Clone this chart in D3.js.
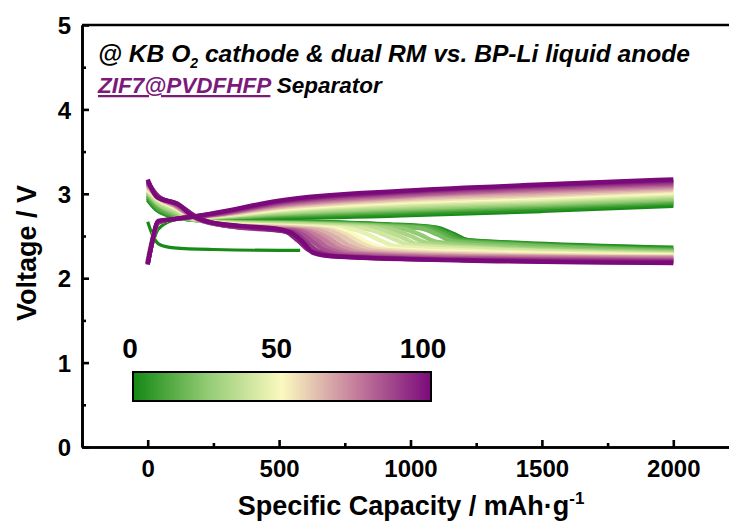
<!DOCTYPE html>
<html>
<head>
<meta charset="utf-8">
<script src="https://cdn.jsdelivr.net/npm/d3@7"></script>
<style>
  body { margin: 0; background: #fff; }
  svg { display: block; font-family: Arial, "Liberation Sans", sans-serif; }
</style>
</head>
<body>
<div id="chart"></div>
<script>
// cycle numbers drawn
const cycles = [1, 2, 5, 10, 15, 20, 25, 30, 35, 40, 45, 50, 55, 60, 65, 70, 75, 80, 85, 90, 95, 100];

// charge: shared capacity grid, one voltage row per cycle
const chargeCapacity = [0, 15, 40, 100, 150, 250, 500, 1000, 1500, 2000];
const chargeVoltage = [
    [2.25, 2.38, 2.58, 2.69, 2.71, 2.71, 2.71, 2.74, 2.79, 2.85],
    [2.2, 2.42, 2.66, 2.7, 2.72, 2.71, 2.72, 2.76, 2.81, 2.87],
    [2.2, 2.42, 2.66, 2.7, 2.72, 2.71, 2.73, 2.77, 2.82, 2.885],
    [2.2, 2.42, 2.66, 2.7, 2.72, 2.72, 2.74, 2.79, 2.84, 2.9],
    [2.2, 2.42, 2.66, 2.7, 2.72, 2.72, 2.75, 2.805, 2.855, 2.915],
    [2.2, 2.42, 2.66, 2.7, 2.72, 2.72, 2.76, 2.82, 2.87, 2.93],
    [2.2, 2.42, 2.66, 2.7, 2.72, 2.725, 2.77, 2.835, 2.885, 2.945],
    [2.2, 2.42, 2.66, 2.7, 2.72, 2.73, 2.78, 2.85, 2.9, 2.96],
    [2.2, 2.42, 2.66, 2.7, 2.72, 2.73, 2.79, 2.865, 2.915, 2.975],
    [2.2, 2.42, 2.66, 2.7, 2.72, 2.73, 2.8, 2.88, 2.93, 2.99],
    [2.19, 2.42, 2.66, 2.7, 2.72, 2.735, 2.81, 2.895, 2.945, 3.005],
    [2.19, 2.42, 2.66, 2.7, 2.72, 2.74, 2.82, 2.91, 2.96, 3.02],
    [2.19, 2.41, 2.66, 2.7, 2.72, 2.74, 2.83, 2.925, 2.975, 3.035],
    [2.19, 2.41, 2.66, 2.7, 2.72, 2.74, 2.84, 2.94, 2.99, 3.05],
    [2.18, 2.41, 2.66, 2.7, 2.72, 2.745, 2.85, 2.955, 3.01, 3.065],
    [2.18, 2.41, 2.66, 2.7, 2.72, 2.75, 2.86, 2.97, 3.03, 3.08],
    [2.18, 2.4, 2.66, 2.7, 2.72, 2.75, 2.87, 2.98, 3.045, 3.095],
    [2.18, 2.4, 2.66, 2.7, 2.72, 2.75, 2.88, 2.99, 3.06, 3.11],
    [2.17, 2.4, 2.66, 2.7, 2.72, 2.755, 2.89, 3.005, 3.075, 3.125],
    [2.17, 2.4, 2.66, 2.7, 2.72, 2.76, 2.9, 3.02, 3.09, 3.14],
    [2.17, 2.4, 2.67, 2.7, 2.72, 2.765, 2.91, 3.03, 3.1, 3.155],
    [2.16, 2.4, 2.68, 2.7, 2.72, 2.77, 2.92, 3.04, 3.11, 3.17]
];

// discharge: [capacity, voltage] per cycle (the step moves left as cycles go on)
const dischargeCurves = [
    [[0,2.67],[20,2.5],[45,2.4],[100,2.36],[250,2.34],[500,2.33],[580,2.33]],
    [[0,2.93],[30,2.82],[80,2.74],[150,2.7],[300,2.68],[600,2.67],[900,2.64],[1100,2.6],[1160,2.53],[1220,2.45],[1400,2.42],[2000,2.36]],
    [[0,2.95],[30,2.83],[80,2.75],[150,2.7],[300,2.675],[600,2.665],[900,2.635],[1090,2.6],[1150,2.53],[1210,2.45],[1400,2.415],[2000,2.35]],
    [[0,2.97],[30,2.85],[80,2.76],[150,2.7],[300,2.67],[600,2.66],[900,2.63],[1080,2.6],[1140,2.53],[1200,2.45],[1400,2.41],[2000,2.34]],
    [[0,2.98],[32,2.86],[85,2.77],[155,2.7],[300,2.665],[600,2.655],[900,2.625],[1060,2.595],[1120,2.525],[1180,2.445],[1400,2.4],[2000,2.33]],
    [[0,3.0],[35,2.88],[90,2.78],[160,2.7],[300,2.66],[600,2.65],[900,2.62],[1040,2.59],[1100,2.52],[1160,2.44],[1400,2.39],[2000,2.32]],
    [[0,3.01],[35,2.89],[95,2.79],[165,2.7],[300,2.66],[600,2.645],[870,2.615],[980,2.58],[1040,2.51],[1100,2.43],[1350,2.375],[2000,2.31]],
    [[0,3.02],[35,2.9],[100,2.8],[170,2.7],[300,2.66],[600,2.64],[850,2.61],[940,2.57],[1000,2.5],[1060,2.42],[1300,2.36],[2000,2.3]],
    [[0,3.03],[38,2.91],[100,2.815],[170,2.705],[300,2.655],[600,2.63],[840,2.6],[910,2.555],[970,2.48],[1030,2.4],[1300,2.35],[2000,2.29]],
    [[0,3.04],[40,2.92],[100,2.83],[170,2.71],[300,2.65],[600,2.62],[820,2.59],[880,2.54],[940,2.46],[1000,2.39],[1300,2.34],[2000,2.28]],
    [[0,3.05],[40,2.93],[100,2.84],[175,2.71],[300,2.645],[580,2.615],[770,2.585],[830,2.53],[890,2.44],[950,2.375],[1250,2.325],[2000,2.275]],
    [[0,3.06],[40,2.94],[100,2.85],[180,2.71],[300,2.64],[550,2.61],[720,2.58],[780,2.52],[840,2.42],[900,2.36],[1200,2.31],[2000,2.27]],
    [[0,3.07],[40,2.945],[100,2.855],[180,2.71],[300,2.635],[550,2.605],[700,2.575],[760,2.51],[820,2.405],[880,2.345],[1200,2.295],[2000,2.26]],
    [[0,3.08],[40,2.95],[100,2.86],[180,2.71],[300,2.63],[550,2.6],[680,2.57],[740,2.5],[800,2.39],[860,2.33],[1200,2.28],[2000,2.25]],
    [[0,3.09],[40,2.955],[100,2.865],[185,2.705],[300,2.63],[520,2.595],[650,2.565],[715,2.485],[775,2.375],[840,2.315],[1200,2.27],[2000,2.245]],
    [[0,3.1],[40,2.96],[100,2.87],[190,2.7],[300,2.63],[500,2.59],[620,2.56],[690,2.47],[750,2.36],[820,2.3],[1200,2.26],[2000,2.24]],
    [[0,3.11],[40,2.965],[100,2.875],[190,2.7],[300,2.625],[500,2.585],[600,2.56],[665,2.465],[725,2.35],[800,2.29],[1200,2.25],[2000,2.23]],
    [[0,3.12],[40,2.97],[100,2.88],[190,2.7],[300,2.62],[500,2.58],[580,2.56],[640,2.46],[700,2.34],[780,2.28],[1200,2.24],[2000,2.22]],
    [[0,3.13],[40,2.97],[105,2.88],[195,2.7],[300,2.62],[490,2.575],[565,2.555],[620,2.45],[675,2.33],[755,2.27],[1200,2.23],[2000,2.21]],
    [[0,3.14],[40,2.97],[110,2.88],[200,2.7],[300,2.62],[480,2.57],[550,2.55],[600,2.44],[650,2.32],[730,2.26],[1200,2.22],[2000,2.2]],
    [[0,3.155],[38,2.965],[115,2.875],[190,2.72],[260,2.65],[400,2.6],[525,2.55],[570,2.45],[615,2.33],[715,2.26],[1200,2.215],[2000,2.19]],
    [[0,3.17],[35,2.96],[120,2.87],[160,2.76],[225,2.67],[350,2.62],[500,2.58],[550,2.53],[590,2.43],[630,2.3],[700,2.26],[1200,2.21],[2000,2.18]]
];

const colorStops = [0, 25, 50, 75, 100];
const colorRange = ["#138813", "#93cb74", "#fbf9bf", "#c47c9c", "#7a0a7a"];
const barLabels = [0, 50, 100];
const xMajorTicks = [0, 500, 1000, 1500, 2000];
const xMinorTicks = [-250, 250, 750, 1250, 1750];
const yMajorTicks = [0, 1, 2, 3, 4, 5];
const yMinorTicks = [0.5, 1.5, 2.5, 3.5, 4.5];

function draw() {
    const width = 729;
    const height = 521;
    const margin = { left: 82, top: 25, right: 0, bottom: 74 };
    const black = "#000";

    const svg = d3.select("#chart")
        .append("svg")
        .attr("width", width)
        .attr("height", height)
        .attr("viewBox", `0 0 ${width} ${height}`);

    const x = d3.scaleLinear()
        .domain([-250, 2212])
        .range([margin.left, width - margin.right]);
    const y = d3.scaleLinear()
        .domain([0, 5])
        .range([height - margin.bottom, margin.top]);
    const color = d3.scaleLinear()
        .domain(colorStops)
        .range(colorRange)
        .interpolate(d3.interpolateRgb);

    // curves, early cycles first so the late (purple) ones sit on top
    const line = d3.line()
        .x(d => x(d[0]))
        .y(d => y(d[1]))
        .curve(d3.curveMonotoneX);

    const gCurves = svg.append("g").attr("class", "curves");
    cycles.forEach((c, i) => {
        const charge = chargeCapacity.map((q, j) => [q, chargeVoltage[i][j]]);
        [dischargeCurves[i], charge].forEach(pts => {
            gCurves.append("path")
                .attr("d", line(pts))
                .attr("fill", "none")
                .attr("stroke", color(c))
                .attr("stroke-width", i === 0 ? 3.2 : 4.4)
                .attr("stroke-linecap", "butt")
                .attr("stroke-linejoin", "round");
        });
    });

    // axes: ticks point into the plot
    const xAxis = svg.append("g")
        .attr("transform", `translate(0, ${y(0)})`)
        .call(d3.axisBottom(x).tickValues(xMajorTicks).tickSizeInner(-7).tickSizeOuter(0)
            .tickPadding(13).tickFormat(d3.format("d")));
    svg.append("g")
        .attr("transform", `translate(0, ${y(0)})`)
        .call(d3.axisBottom(x).tickValues(xMinorTicks).tickSizeInner(-4).tickSizeOuter(0).tickFormat(""));

    const yAxis = svg.append("g")
        .attr("transform", `translate(${x(-250)}, 0)`)
        .call(d3.axisLeft(y).tickValues(yMajorTicks).tickSizeInner(-7).tickSizeOuter(0)
            .tickPadding(11).tickFormat(d3.format("d")));
    svg.append("g")
        .attr("transform", `translate(${x(-250)}, 0)`)
        .call(d3.axisLeft(y).tickValues(yMinorTicks).tickSizeInner(-4).tickSizeOuter(0).tickFormat(""));

    svg.selectAll(".domain")
        .attr("stroke", black)
        .attr("stroke-width", 2.6);
    svg.selectAll(".tick line")
        .attr("stroke", black)
        .attr("stroke-width", 2.6);
    svg.selectAll(".tick text")
        .style("font-family", "Arial, 'Liberation Sans', sans-serif")
        .style("font-size", "24px")
        .style("font-weight", 700)
        .style("fill", black);
    xAxis.selectAll(".tick text").attr("dy", "0.72em");
    yAxis.selectAll(".tick text").attr("dy", "0.36em");

    // top frame line
    svg.append("line")
        .attr("x1", x(-250))
        .attr("x2", width)
        .attr("y1", y(5))
        .attr("y2", y(5))
        .attr("stroke", black)
        .attr("stroke-width", 2.6);

    // axis titles
    const xTitle = svg.append("text")
        .attr("x", 411)
        .attr("y", 515)
        .attr("text-anchor", "middle")
        .style("font-size", "27px")
        .style("font-weight", 700);
    xTitle.append("tspan").text("Specific Capacity / mAh·g");
    xTitle.append("tspan").attr("dy", -11).style("font-size", "17px").text("-1");

    svg.append("text")
        .attr("transform", `translate(36, 253) rotate(-90)`)
        .attr("text-anchor", "middle")
        .style("font-size", "27px")
        .style("font-weight", 700)
        .text("Voltage / V");

    // annotation
    const note1 = svg.append("text")
        .attr("x", 98)
        .attr("y", 62)
        .style("font-size", "24.6px")
        .style("font-weight", 700)
        .style("font-style", "italic");
    note1.append("tspan").text("@ KB O");
    note1.append("tspan").attr("dy", 6).style("font-size", "14px").text("2");
    note1.append("tspan").attr("dy", -6).text(" cathode & dual RM vs. BP-Li liquid anode");

    const note2 = svg.append("text")
        .attr("x", 98)
        .attr("y", 93)
        .style("font-size", "22.5px")
        .style("font-weight", 700)
        .style("font-style", "italic");
    note2.append("tspan")
        .style("fill", "#7b1a7b")
        .style("text-decoration", "underline")
        .text("ZIF7@PVDFHFP");
    note2.append("tspan").text(" Separator");

    // colour bar
    const barX = d3.scaleLinear().domain([0, 100]).range([133, 431]);
    const barLabelX = d3.scaleLinear().domain([0, 100]).range([130, 423]);
    const grad = svg.append("defs").append("linearGradient")
        .attr("id", "cbar")
        .attr("x1", "0%").attr("x2", "100%")
        .attr("y1", "0%").attr("y2", "0%");
    grad.selectAll("stop")
        .data(colorStops)
        .join("stop")
            .attr("offset", d => `${d}%`)
            .attr("stop-color", d => color(d));

    svg.append("rect")
        .attr("x", barX(0))
        .attr("y", 372)
        .attr("width", barX(100) - barX(0))
        .attr("height", 29)
        .attr("fill", "url(#cbar)")
        .attr("stroke", black)
        .attr("stroke-width", 2);

    svg.selectAll(".bar-label")
        .data(barLabels)
        .join("text")
            .attr("class", "bar-label")
            .attr("x", d => barLabelX(d))
            .attr("y", 358)
            .attr("text-anchor", "middle")
            .style("font-size", "28px")
            .style("font-weight", 700)
            .text(d => d);
}

draw();
</script>
</body>
</html>
